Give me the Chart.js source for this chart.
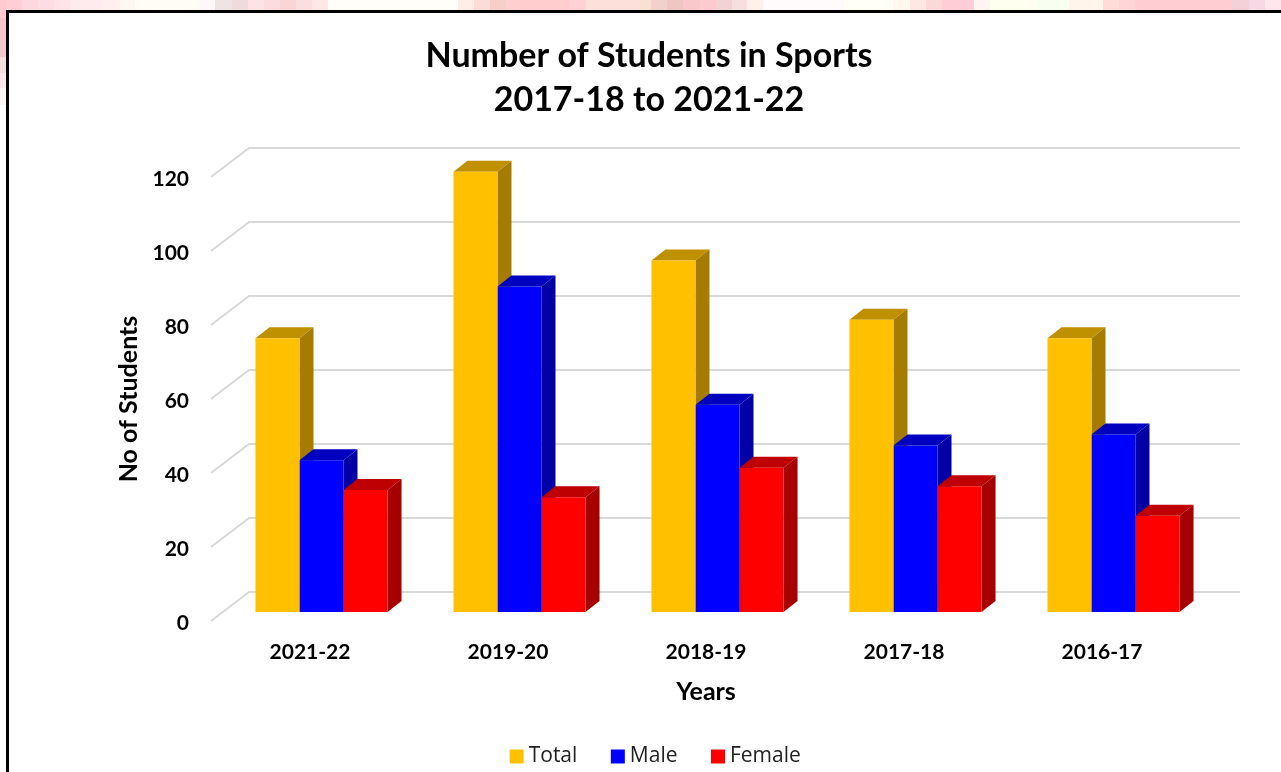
<!DOCTYPE html>
<html>
<head>
    <title>Number of Students in Sports</title>
    <style>
        body {
            margin: 0;
            width: 1281px;
            height: 772px;
            overflow: hidden;
            position: relative;
            background: #fff;
        }
        /* faded picture behind the slide, only its edge shows */
        #backdrop {
            position: absolute;
            left: 0;
            top: 0;
            width: 1281px;
            height: 11px;
            background: linear-gradient(90deg, #ffcdd5 0 22px, #fed8df 22px 38px, #fddde3 38px 54px, #ffe3e8 54px 70px, #ffeaee 70px 102px, #fff0ef 102px 120px, #fff7f1 120px 135px, #fffdf6 135px 200px, #fff7f9 200px 215px, #efe3e3 215px 232px, #eedcdc 232px 248px, #fde3e3 248px 264px, #fcdcdc 264px 280px, #f8d6d6 280px 296px, #fbdede 296px 312px, #fde8e6 312px 328px, #fffef8 328px 458px, #feeee6 458px 474px, #fcdcd6 474px 490px, #f6cfca 490px 506px, #fdd0cf 506px 520px, #ffcdce 520px 570px, #fed2d4 570px 586px, #fde0da 586px 640px, #f8e0d5 640px 651px, #f2d0cc 651px 667px, #efc6c4 667px 683px, #f9c8ca 683px 700px, #fdcbcf 700px 716px, #f2d2d2 716px 732px, #f5e0de 732px 747px, #fff0ea 747px 763px, #fffafb 763px 844px, #fffff5 844px 893px, #fff8ee 893px 910px, #ffe8e3 910px 926px, #fcd8d8 926px 942px, #ffcdd5 942px 974px, #fff5f0 974px 990px, #fffff0 990px 1038px, #f8fff0 1038px 1069px, #fff5ea 1069px 1103px, #ffdcd8 1103px 1119px, #ffd5d8 1119px 1135px, #ffcdd2 1135px 1232px, #f2d2d8 1232px 1249px, #f8d8e5 1249px 1265px, #ffe5ec 1265px);
        }
        #edge {
            position: absolute;
            left: 0;
            top: 0;
            width: 7px;
            height: 105px;
            background: linear-gradient(180deg, #ffc9d0 0 18px, #f5c5cc 18px 40px, #efc7ce 40px 57px, #f5dfe0 57px 73px, #ffe8ec 73px 88px, #fff5f5 88px 105px);
        }
        #frame {
            position: absolute;
            left: 6px;
            top: 10px;
            width: 1400px;
            height: 900px;
            border: 3px solid #000;
            background: #fff;
        }
        canvas {
            position: absolute;
            left: 0;
            top: 0;
        }
    </style>
</head>
<body>
    <div id="backdrop"></div>
    <div id="edge"></div>
    <div id="frame"></div>
    <canvas id="chart" width="1281" height="772"></canvas>

    <script src="https://cdn.jsdelivr.net/npm/chart.js"></script>
    <script>
        var years = ['2021-22', '2019-20', '2018-19', '2017-18', '2016-17'];
        var total = [74, 119, 95, 79, 74];
        var male = [41, 88, 56, 45, 48];
        var female = [33, 31, 39, 34, 26];

        var boldFont = 'Lato, sans-serif';
        var legendFont = '"Open Sans", sans-serif';

        // Excel style 3D look: the scales are the front plane, the bars sit a bit behind it
        var wallX = 38, wallY = 29;
        var barX = 11.5, barY = 9;
        var depthX = 14, depthY = 11;

        var topColors = ['#bf9000', '#0000bf', '#bf0000'];
        var sideColors = ['#a67c00', '#0000a6', '#a60000'];

        function shape(ctx, color, pts) {
            ctx.fillStyle = color;
            ctx.beginPath();
            ctx.moveTo(pts[0][0], pts[0][1]);
            for (var i = 1; i < pts.length; i++) {
                ctx.lineTo(pts[i][0], pts[i][1]);
            }
            ctx.closePath();
            ctx.fill();
        }

        var depthPlugin = {
            id: 'depth',
            afterLayout: function(chart) {
                // legend sits a little right of and below where the layout puts it
                chart.legend.left += 9;
                chart.legend.right += 9;
                chart.legend.top += 5;
            },
            beforeDatasetsDraw: function(chart) {
                var ctx = chart.ctx;
                var y = chart.scales.y;
                var area = chart.chartArea;

                // gridlines on the floor edge and the back wall
                ctx.save();
                ctx.strokeStyle = '#d9d9d9';
                ctx.lineWidth = 2;
                y.ticks.forEach(function(t) {
                    var py = y.getPixelForValue(t.value);
                    ctx.beginPath();
                    ctx.moveTo(area.left, py);
                    ctx.lineTo(area.left + wallX, py - wallY);
                    ctx.lineTo(area.right + wallX + 1, py - wallY);
                    ctx.stroke();
                });
                ctx.restore();

                // the datasets get moved back, restored in afterDatasetsDraw
                ctx.save();
                ctx.translate(barX, -barY);

                for (var c = 0; c < years.length; c++) {
                    for (var d = 0; d < chart.data.datasets.length; d++) {
                        var bar = chart.getDatasetMeta(d).data[c];
                        var l = bar.x - bar.width / 2;
                        var r = bar.x + bar.width / 2;
                        shape(ctx, topColors[d], [[l, bar.y], [l + depthX, bar.y - depthY], [r + depthX, bar.y - depthY], [r, bar.y]]);
                        shape(ctx, sideColors[d], [[r, bar.y], [r + depthX, bar.y - depthY], [r + depthX, bar.base - depthY], [r, bar.base]]);
                    }
                }
            },
            afterDatasetsDraw: function(chart) {
                chart.ctx.restore();
            }
        };

        new Chart(document.getElementById('chart').getContext('2d'), {
            type: 'bar',
            plugins: [depthPlugin],
            data: {
                labels: years,
                datasets: [
                    { label: 'Total', data: total, backgroundColor: '#ffc000', clip: false },
                    { label: 'Male', data: male, backgroundColor: '#0000ff', clip: false },
                    { label: 'Female', data: female, backgroundColor: '#ff0000', clip: false }
                ]
            },
            options: {
                responsive: false,
                animation: false,
                categoryPercentage: 0.667,
                barPercentage: 1,
                layout: {
                    padding: { left: 97, right: 80, top: 34, bottom: 0 }
                },
                plugins: {
                    title: {
                        display: true,
                        text: ['Number of Students in Sports', '2017-18 to 2021-22'],
                        color: '#000',
                        font: { family: boldFont, size: 34, weight: 'bold', lineHeight: 1.294 },
                        padding: { top: 0, bottom: 55 }
                    },
                    legend: {
                        position: 'bottom',
                        labels: {
                            color: '#222',
                            font: { family: legendFont, size: 21 },
                            usePointStyle: true,
                            pointStyle: 'rect',
                            boxWidth: 3,
                            boxHeight: 14,
                            padding: 39
                        }
                    },
                    tooltip: { enabled: false }
                },
                scales: {
                    x: {
                        afterFit: function(s) { s.height = 81; },
                        grid: { display: false },
                        border: { display: false },
                        ticks: {
                            color: '#000',
                            padding: 11,
                            font: { family: boldFont, size: 21, weight: 'bold' }
                        },
                        title: {
                            display: true,
                            text: 'Years',
                            color: '#000',
                            font: { family: boldFont, size: 25, weight: 'bold' },
                            padding: { top: 0, bottom: -5 }
                        }
                    },
                    y: {
                        min: 0,
                        max: 120,
                        afterFit: function(s) { s.width = 114; },
                        grid: { display: false },
                        border: { display: false },
                        ticks: {
                            stepSize: 20,
                            color: '#000',
                            padding: 14,
                            labelOffset: 2,
                            font: { family: boldFont, size: 21, weight: 'bold' }
                        },
                        title: {
                            display: true,
                            text: 'No of Students',
                            color: '#000',
                            font: { family: boldFont, size: 25, weight: 'bold' },
                            padding: { top: 17, bottom: 0 }
                        }
                    }
                }
            }
        });
    </script>
</body>
</html>
